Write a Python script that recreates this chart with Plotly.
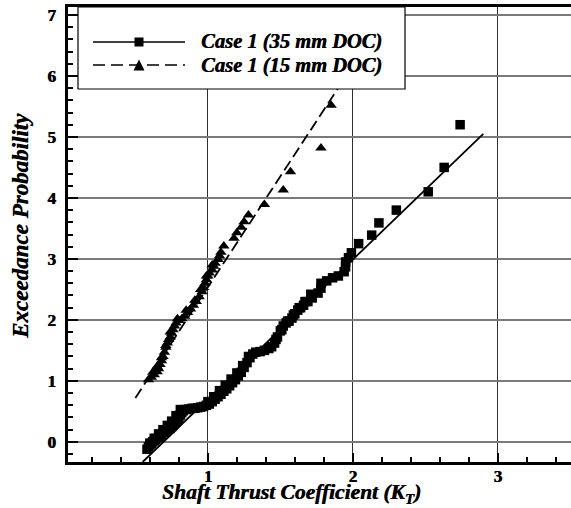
import plotly.graph_objects as go

# ---- data ----
sq_x = [0.58, 0.59, 0.60, 0.61, 0.62, 0.63, 0.64, 0.66, 0.67, 0.68, 0.70, 0.71, 0.72, 0.74,
        0.75, 0.76, 0.77, 0.78, 0.79, 0.80, 0.81, 0.82, 0.83, 0.85, 0.87, 0.89, 0.91, 0.93,
        0.95, 0.97, 0.99, 1.01, 1.03, 1.05, 1.07, 1.09, 1.11, 1.13, 1.15, 1.17, 1.19, 1.21,
        1.23, 1.25, 1.27, 1.29, 1.31, 1.33, 1.36, 1.39, 1.42, 1.44, 1.46, 1.48, 1.50, 1.52,
        1.54, 1.56, 1.58, 1.60, 1.62, 1.64, 1.66, 1.69, 1.72, 1.76, 1.78, 1.78, 1.82, 1.86,
        1.90, 1.94, 1.95, 1.95, 1.97, 1.99, 2.04, 2.13, 2.18, 2.30, 2.52, 2.63, 2.74,
        0.60, 0.63, 0.66, 0.69, 0.72, 0.75, 0.78, 0.81, 1.00, 1.04, 1.08, 1.12, 1.16, 1.20,
        1.24, 1.28, 1.47, 1.51, 1.55, 1.59, 1.63, 1.67, 1.71]
sq_y = [-0.12, -0.08, -0.05, -0.03, 0.00, 0.02, 0.04, 0.07, 0.09, 0.12, 0.15, 0.17, 0.19, 0.22,
        0.25, 0.27, 0.30, 0.33, 0.36, 0.40, 0.44, 0.48, 0.51, 0.53, 0.54, 0.55, 0.55, 0.56,
        0.57, 0.58, 0.60, 0.62, 0.66, 0.70, 0.74, 0.78, 0.83, 0.87, 0.92, 0.97, 1.02, 1.08,
        1.14, 1.22, 1.30, 1.38, 1.44, 1.47, 1.48, 1.50, 1.53, 1.56, 1.62, 1.72, 1.82, 1.90,
        1.95, 1.98, 2.03, 2.10, 2.16, 2.20, 2.24, 2.30, 2.36, 2.44, 2.52, 2.60, 2.64, 2.69,
        2.72, 2.79, 2.87, 2.95, 3.02, 3.10, 3.25, 3.39, 3.59, 3.80, 4.10, 4.50, 5.20,
        -0.02, 0.06, 0.13, 0.20, 0.27, 0.34, 0.43, 0.53, 0.66, 0.74, 0.84, 0.93, 1.03, 1.13,
        1.25, 1.40, 1.68, 1.84, 1.98, 2.08, 2.20, 2.30, 2.42]

tri_x = [0.59, 0.61, 0.63, 0.65, 0.66, 0.67, 0.68, 0.69, 0.70, 0.71, 0.72, 0.73, 0.74, 0.75,
         0.76, 0.77, 0.78, 0.80, 0.82, 0.84, 0.86, 0.88, 0.90, 0.92, 0.94, 0.96, 0.97, 0.98,
         0.99, 1.00, 1.01, 1.03, 1.04, 1.05, 1.07, 1.08, 1.09, 1.11, 1.18, 1.20, 1.23, 1.25,
         1.28, 1.39, 1.52, 1.57, 1.78, 1.85,
         0.62, 0.65, 0.68, 0.71, 0.74, 0.79, 0.85, 0.91, 0.95, 0.99, 1.03]
tri_y = [1.02, 1.06, 1.10, 1.15, 1.20, 1.27, 1.33, 1.40, 1.47, 1.55, 1.62, 1.68, 1.72, 1.78,
         1.84, 1.90, 1.95, 1.99, 2.02, 2.06, 2.12, 2.18, 2.24, 2.30, 2.38, 2.46, 2.53, 2.60,
         2.66, 2.72, 2.77, 2.82, 2.88, 2.93, 2.99, 3.05, 3.11, 3.21, 3.34, 3.43, 3.52, 3.61,
         3.72, 3.89, 4.13, 4.43, 4.82, 5.52,
         1.14, 1.24, 1.38, 1.58, 1.80, 2.02, 2.16, 2.32, 2.50, 2.72, 2.90]

fit35_x = [0.55, 2.90]
fit35_y = [-0.33, 5.05]
fit15_x = [0.50, 2.00]
fit15_y = [0.72, 6.17]

legend_labels = ["Case 1 (35 mm DOC)", "Case 1 (15 mm DOC)"]

# ---- layout geometry ----
W, H = 571, 508
L, R, T, B = 68, 0, 7, 46
PW, PH = W - L - R, H - T - B


def px(x):
    return (x - L) / PW


def py(y):
    return (H - B - y) / PH


SERIF = "Liberation Serif"
SHADOW = "0.6px 0px 0px black"


def bi(size):
    return dict(family=SERIF, size=size, color="black", weight="bold", style="italic",
                shadow=SHADOW)


fig = go.Figure()
fig.add_trace(go.Scatter(x=fit35_x, y=fit35_y, mode="lines",
                         line=dict(color="black", width=1.8), showlegend=False))
fig.add_trace(go.Scatter(x=fit15_x, y=fit15_y, mode="lines",
                         line=dict(color="black", width=1.8, dash="11px,5px"), showlegend=False))
fig.add_trace(go.Scatter(x=sq_x, y=sq_y, mode="markers",
                         marker=dict(symbol="square", size=9.5, color="black"), showlegend=False))
fig.add_trace(go.Scatter(x=tri_x, y=tri_y, mode="markers",
                         marker=dict(symbol="triangle-up", size=10, color="black"), showlegend=False))

shapes = []
shapes.append(dict(type="rect", xref="paper", yref="paper",
                   x0=px(78), x1=px(405), y0=py(89), y1=py(7),
                   fillcolor="white", line=dict(color="black", width=1.2), layer="above"))
shapes.append(dict(type="line", xref="paper", yref="paper", x0=px(93), x1=px(185),
                   y0=py(42), y1=py(42), line=dict(color="black", width=1.5), layer="above"))
shapes.append(dict(type="rect", xref="paper", yref="paper", x0=px(134.5), x1=px(143.5),
                   y0=py(46.5), y1=py(37.5), fillcolor="black", line=dict(width=0), layer="above"))
shapes.append(dict(type="line", xref="paper", yref="paper", x0=px(93), x1=px(185),
                   y0=py(65), y1=py(65), line=dict(color="black", width=1.5, dash="12px,6px"),
                   layer="above"))
tx0, ty0 = px(139), py(65)
tw, th = 5.5 / PW, 5.5 / PH
shapes.append(dict(type="path", xref="paper", yref="paper",
                   path=f"M {tx0 - tw} {ty0 - th} L {tx0 + tw} {ty0 - th} L {tx0} {ty0 + th} Z",
                   fillcolor="black", line=dict(width=0), layer="above"))

annotations = []
for i, lab in enumerate(legend_labels):
    annotations.append(dict(text=lab, xref="paper", yref="paper",
                            x=px(199), y=py([42, 65][i]), xanchor="left", yanchor="middle",
                            showarrow=False, font=bi(20.5)))
annotations.append(dict(text="Shaft Thrust Coefficient (K<sub>T</sub>)",
                        xref="paper", yref="paper", x=px(291), y=py(493),
                        xanchor="center", yanchor="middle", showarrow=False, font=bi(21.5)))
annotations.append(dict(text="Exceedance Probability",
                        xref="paper", yref="paper", x=px(21), y=py(226), textangle=-90,
                        xanchor="center", yanchor="middle", showarrow=False, font=bi(23)))

tickfont = dict(family=SERIF, size=17, color="black", weight="bold", shadow=SHADOW)

fig.update_layout(
    width=W, height=H, margin=dict(l=L, r=R, t=T, b=B),
    paper_bgcolor="white", plot_bgcolor="white",
    shapes=shapes, annotations=annotations, showlegend=False,
    font=dict(family=SERIF, color="black"),
)
fig.update_xaxes(range=[0.035, 3.505], tick0=0, dtick=1, ticks="inside", ticklen=9,
                 tickwidth=2, tickcolor="black", showline=True, linecolor="black",
                 linewidth=2.5, mirror=True, showgrid=True, gridcolor="#303030",
                 gridwidth=1, zeroline=False, tickfont=tickfont, ticklabelstandoff=-3,
                 minor=dict(dtick=0.2, tick0=0, ticks="inside", ticklen=5, tickwidth=1.5,
                            tickcolor="black", showgrid=False))
fig.update_yaxes(range=[-0.33, 7.13], tick0=0, dtick=1, ticks="inside", ticklen=10,
                 tickwidth=2, tickcolor="black", showline=True, linecolor="black",
                 linewidth=2.5, mirror=False, showgrid=True, gridcolor="#7a7a7a",
                 gridwidth=1.5, zeroline=False, tickfont=tickfont, ticklabelstandoff=6,
                 minor=dict(dtick=0.2, tick0=0, ticks="inside", ticklen=5, tickwidth=1.5,
                            tickcolor="black", showgrid=False))

fig.write_html("out.html")
